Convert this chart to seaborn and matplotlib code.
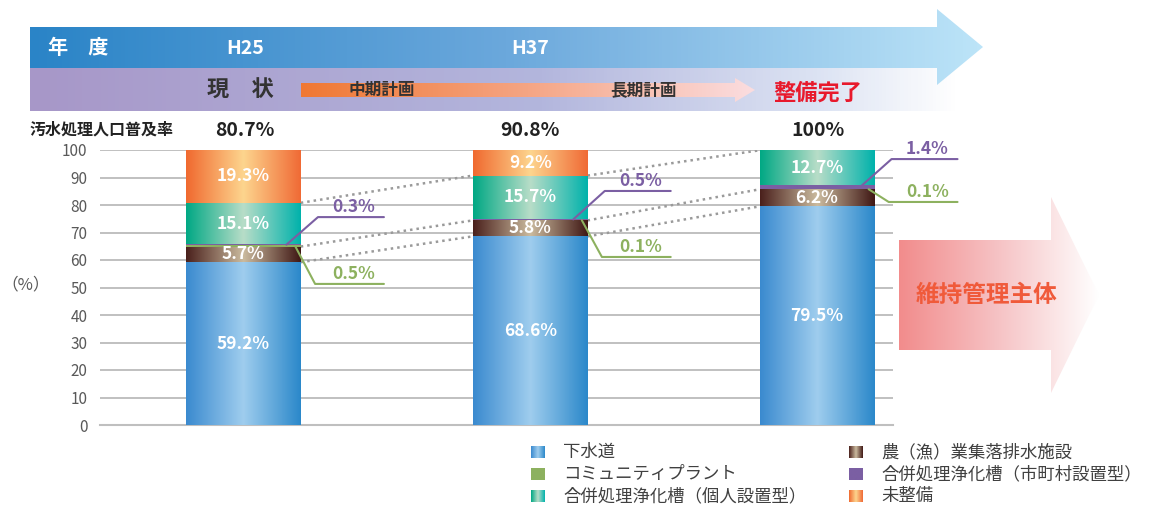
import numpy as np
import pandas as pd
import matplotlib
matplotlib.use("Agg")
import matplotlib.pyplot as plt
import seaborn as sns
from matplotlib.colors import LinearSegmentedColormap
from matplotlib.patches import Polygon, Rectangle

# ---------------- data ----------------
years = ["H25", "H37", "整備完了"]
coverage_labels = ["80.7%", "90.8%", "100%"]
series_names = ["下水道", "農（漁）業集落排水施設", "コミュニティプラント",
                "合併処理浄化槽（市町村設置型）", "合併処理浄化槽（個人設置型）", "未整備"]
sewer = [59.2, 68.6, 79.5]
agri = [5.7, 5.8, 6.2]
community = [0.5, 0.1, 0.1]
septic_muni = [0.3, 0.5, 1.4]
septic_indiv = [15.1, 15.7, 12.7]
unserved = [19.3, 9.2, 0.0]
yticks = list(range(0, 101, 10))

values = [sewer, agri, community, septic_muni, septic_indiv, unserved]
df = pd.DataFrame({
    "year": np.tile(years, len(series_names)),
    "series": np.repeat(series_names, len(years)),
    "value": np.concatenate(values),
})
df["top"] = df.groupby("year", sort=False)["value"].cumsum()
cum = np.array([df[df.series == s]["top"].to_numpy() for s in series_names])

# ---------------- styles ----------------
grad_stops = [
    ["#3A8ACF", "#9FCDEE", "#2B88CA"],
    ["#4A201C", "#CBBB9F", "#3F1714"],
    ["#8DB15F", "#8DB15F"],
    ["#7B5FA3", "#7B5FA3"],
    ["#00A884", "#B8DDC8", "#00B2AB"],
    ["#F0692F", "#FDD58E", "#F06A35"],
]
mid_colors = ["#6AAEE0", "#8A6E5E", "#8DB15F", "#7B5FA3", "#5CC4A8", "#F7A060"]
PURPLE = "#7B5FA3"
GREEN = "#8DB15F"

sns.set_theme(style="white")
plt.rcParams["font.family"] = ["Noto Sans CJK JP", "DejaVu Sans"]


def cmap_of(stops):
    return LinearSegmentedColormap.from_list("g", stops)


def hgrad(axx, x0, x1, y0, y1, stops, zorder, clip=None):
    im = axx.imshow(np.linspace(0, 1, 256)[None, :], cmap=cmap_of(stops),
                    extent=(x0, x1, y0, y1), aspect="auto", origin="lower",
                    zorder=zorder, interpolation="bilinear")
    if clip is not None:
        im.set_clip_path(clip)
    return im


W, H = 1157, 507
fig = plt.figure(figsize=(W / 100, H / 100), dpi=100)
over = fig.add_axes([0, 0, 1, 1], zorder=0)
over.axis("off")
ax = fig.add_axes([100 / W, 1 - 425 / H, 793 / W, 275 / H], zorder=1)
ax.set_facecolor("none")

# ---------------- stacked bars (drawn top layer first, overlapping) ----------------
for k in reversed(range(len(series_names))):
    z = 3 + (len(series_names) - k)
    n0 = len(ax.patches)
    sns.barplot(x=years, y=cum[k], order=years, color=mid_colors[k], width=0.4,
                saturation=1, errorbar=None, linewidth=0, zorder=z, ax=ax)
    for p in ax.patches[n0:]:
        x0, y0 = p.get_x(), p.get_y()
        hgrad(ax, x0, x0 + p.get_width(), y0, y0 + p.get_height(),
              grad_stops[k], z + 0.5, clip=p)

# dotted connectors between bars
for k in [0, 1, 4]:
    for i in range(len(years) - 1):
        ax.plot([i + 0.2, i + 0.8], [cum[k][i], cum[k][i + 1]], ls=(0, (1, 1.6)),
                color="#9A9A9A", lw=1.8, zorder=2)

# labels inside bars
for k in [0, 1, 4, 5]:
    for i in range(len(years)):
        v = values[k][i]
        if v > 0:
            ax.text(i, cum[k][i] - v / 2, f"{v:.1f}%", ha="center", va="center",
                    color="white", fontsize=12.5, fontweight="bold", zorder=30)

# callouts for thin segments
callouts = [(3, PURPLE, [75.6, 85.1, 96.7], 0.15, 0.26),
            (2, GREEN, [51.3, 61.1, 81.1], 0.18, 0.25)]
for k, col, ys, sx, ex in callouts:
    for i in range(len(years)):
        y0 = cum[k][i] - values[k][i] / 2
        ax.plot([i + sx, i + ex, i + 0.49], [y0, ys[i], ys[i]], color=col, lw=1.5,
                clip_on=False, zorder=25)
        ax.text(i + 0.385, ys[i] + 0.4, f"{values[k][i]:.1f}%", color=col, ha="center",
                va="bottom", fontsize=12.5, fontweight="bold", clip_on=False, zorder=25)

# axes styling
ax.set_xlim(-0.5, 2.265)
ax.set_ylim(0, 100)
ax.set_yticks(yticks)
ax.set_yticklabels([str(t) for t in yticks], fontsize=11, color="#595959")
ax.tick_params(axis="y", length=0, pad=9)
ax.set_xticks([-0.5, 0.5, 1.5])
ax.set_xticklabels([])
ax.tick_params(axis="x", length=6, width=1.5, color="#BFBFBF", direction="out")
ax.grid(axis="y", color="#C0C0C0", lw=1.4)
ax.grid(axis="x", visible=False)
ax.set_axisbelow(True)
for s in ["top", "right", "left"]:
    ax.spines[s].set_visible(False)
ax.spines["bottom"].set_color("#BFBFBF")
ax.spines["bottom"].set_linewidth(1.5)
ax.set_xlabel("")
ax.set_ylabel("")

# ---------------- header / decorations (pixel coordinates) ----------------
def grad_poly(verts, stops, zorder):
    xs = [v[0] for v in verts]
    ys = [v[1] for v in verts]
    poly = Polygon(verts, closed=True, facecolor="none", edgecolor="none")
    over.add_patch(poly)
    hgrad(over, min(xs), max(xs), min(ys), max(ys), stops, zorder, clip=poly)


grad_poly([(30, 68), (960, 68), (960, 111), (30, 111)],
          [(0, "#A797C8"), (0.55, "#B3B6DD"), (0.85, "#DCE3F3"), (1, "#FFFFFF")], 1)
grad_poly([(30, 27), (937, 27), (937, 9), (983, 47), (937, 85), (937, 68), (30, 68)],
          [(0, "#2A84C7"), (0.5, "#6BA8DC"), (1, "#BCE4F8")], 2)
grad_poly([(301, 83), (735, 83), (735, 78), (755, 90), (735, 102), (735, 97), (301, 97)],
          [(0, "#F07833"), (0.5, "#F5A584"), (1, "#FBDDE0")], 3)
grad_poly([(899, 240), (1051, 240), (1051, 197), (1099, 295), (1051, 393), (1051, 350), (899, 350)],
          [(0, "#F28C8C"), (0.5, "#F6C3C5"), (1, "#FFFFFF")], 1)

over.text(78, 48, "年　度", color="white", fontsize=14.5, fontweight="bold", ha="center", va="center")
for xp, lab in zip([245, 530], ["H25", "H37"]):
    over.text(xp, 48, lab, color="white", fontsize=14, fontweight="bold", ha="center", va="center")
over.text(240, 90, "現　状", color="#333333", fontsize=16, fontweight="bold", ha="center", va="center", zorder=5)
over.text(382, 90, "中期計画", color="#333333", fontsize=12, fontweight="bold", ha="center", va="center", zorder=5)
over.text(643, 90, "長期計画", color="#333333", fontsize=12, fontweight="bold", ha="center", va="center", zorder=5)
over.text(818, 93, "整備完了", color="#E8192C", fontsize=16, fontweight="bold", ha="center", va="center", zorder=5)
over.text(30, 130, "汚水処理人口普及率", color="#222222", fontsize=11.5, fontweight="bold", ha="left", va="center")
for xp, lab in zip([245, 530, 818], coverage_labels):
    over.text(xp, 130, lab, color="#222222", fontsize=14, fontweight="bold", ha="center", va="center")
over.text(26, 285, "（%）", color="#595959", fontsize=12, ha="center", va="center")
over.text(987, 295, "維持管理主体", color="#F05A3A", fontsize=17, fontweight="bold", ha="center", va="center", zorder=5)

# legend (manual, gradient swatches)
legend_cols = [[0, 2, 4], [1, 3, 5]]
col_x = [531, 849]
row_y = [452, 474, 496]
for cx, idxs in zip(col_x, legend_cols):
    for ry, k in zip(row_y, idxs):
        sw = Rectangle((cx, ry - 6.5), 14, 13, facecolor="none", edgecolor="none")
        over.add_patch(sw)
        hgrad(over, cx, cx + 14, ry - 6.5, ry + 6.5, grad_stops[k], 3, clip=sw)
        over.text(cx + 32, ry, series_names[k], color="#404040", fontsize=12.5,
                  ha="left", va="center")

over.set_xlim(0, W)
over.set_ylim(H, 0)

fig.savefig("out.png", dpi=100)
